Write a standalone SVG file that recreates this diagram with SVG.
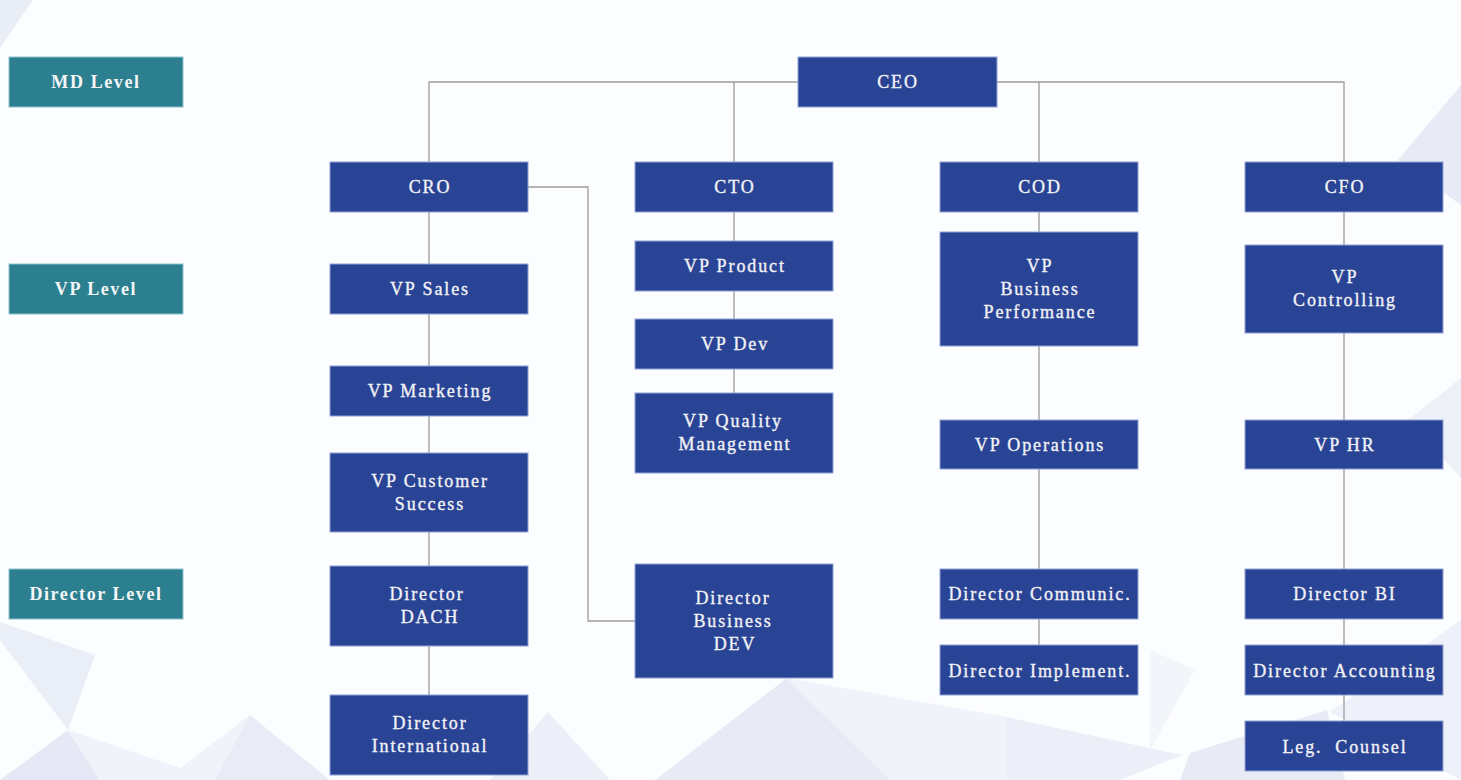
<svg xmlns="http://www.w3.org/2000/svg" width="1461" height="780" viewBox="0 0 1461 780">
<style>
.node{fill:#2a4495;stroke:#8fa2d6;stroke-width:1}
.lvl{fill:#2b7f8e;stroke:#8cc3cc;stroke-width:1}
.t{font-family:"Liberation Serif","DejaVu Serif",serif;font-size:18px;fill:#f2f2f6;stroke:#f2f2f6;stroke-width:0.35px;text-anchor:middle;letter-spacing:1.9px}
.lt{font-family:"Liberation Serif","DejaVu Serif",serif;font-size:18px;font-weight:bold;fill:#f4f6f7;text-anchor:middle;letter-spacing:1.6px}
.c{fill:none;stroke:#9c9c9c;stroke-width:1.3}
</style>
<rect x="0" y="0" width="1461" height="780" fill="#fcfdfe"/>
<g id="background">
<polygon points="0,0 33,0 0,48" fill="#e9eef6"/>
<polygon points="1461,85 1398,160 1461,205" fill="#e8eaf6"/>
<polygon points="1461,378 1408,420 1461,478" fill="#eef0f8"/>
<polygon points="1461,620 1330,712 1461,780" fill="#eef1f9"/>
<polygon points="1190,753 1327,710 1345,780 1180,780" fill="#e8ebf6"/>
<polygon points="1150,650 1195,670 1150,750" fill="#f3f5fb"/>
<polygon points="0,622 95,655 68,730 0,640" fill="#eaeef6"/>
<polygon points="68,730 0,780 100,780" fill="#e6e9f5"/>
<polygon points="68,730 180,768 250,715 300,780 100,780" fill="#f1f3fa"/>
<polygon points="250,715 330,780 215,780" fill="#e9ecf6"/>
<polygon points="548,712 610,780 490,780" fill="#eceff8"/>
<polygon points="655,780 787,678 890,780" fill="#e8ebf6"/>
<polygon points="787,678 1006,717 1006,780 890,780" fill="#f1f3fa"/>
<polygon points="1006,717 1182,755 1120,780 1006,780" fill="#eceff8"/>
</g>
<g id="connectors">
<path class="c" d="M429,162 V82 H1344 V162 M734,82 V162 M1039,82 V162"/>
<path class="c" d="M429,212 V264 M429,314 V366 M429,416 V453 M429,532 V566 M429,646 V695"/>
<path class="c" d="M528,187 H588 V621 H635"/>
<path class="c" d="M734,212 V241 M734,291 V319 M734,369 V393"/>
<path class="c" d="M1039,212 V232 M1039,346 V420 M1039,469 V569 M1039,619 V645"/>
<path class="c" d="M1344,212 V245 M1344,333 V420 M1344,469 V569 M1344,619 V645 M1344,695 V721"/>
</g>
<g id="lvl-md"><rect class="lvl" x="9" y="57" width="174" height="50"/><text class="lt" x="96" y="88">MD Level</text></g>
<g id="lvl-vp"><rect class="lvl" x="9" y="264" width="174" height="50"/><text class="lt" x="96" y="295">VP Level</text></g>
<g id="lvl-dir"><rect class="lvl" x="9" y="569" width="174" height="50"/><text class="lt" x="96" y="600">Director Level</text></g>
<g id="ceo"><rect class="node" x="798" y="57" width="199" height="50"/><text class="t" x="898" y="88">CEO</text></g>
<g id="cro"><rect class="node" x="330" y="162" width="198" height="50"/><text class="t" x="430" y="193">CRO</text></g>
<g id="cto"><rect class="node" x="635" y="162" width="198" height="50"/><text class="t" x="735" y="193">CTO</text></g>
<g id="cod"><rect class="node" x="940" y="162" width="198" height="50"/><text class="t" x="1040" y="193">COD</text></g>
<g id="cfo"><rect class="node" x="1245" y="162" width="198" height="50"/><text class="t" x="1345" y="193">CFO</text></g>
<g id="vp-sales"><rect class="node" x="330" y="264" width="198" height="50"/><text class="t" x="430" y="295">VP Sales</text></g>
<g id="vp-marketing"><rect class="node" x="330" y="366" width="198" height="50"/><text class="t" x="430" y="397">VP Marketing</text></g>
<g id="vp-customer-success"><rect class="node" x="330" y="453" width="198" height="79"/><text class="t" x="430" y="487">VP Customer</text><text class="t" x="430" y="510">Success</text></g>
<g id="dir-dach"><rect class="node" x="330" y="566" width="198" height="80"/><text class="t" x="427" y="600">Director</text><text class="t" x="430" y="623">DACH</text></g>
<g id="dir-international"><rect class="node" x="330" y="695" width="198" height="80"/><text class="t" x="430" y="729">Director</text><text class="t" x="430" y="752">International</text></g>
<g id="vp-product"><rect class="node" x="635" y="241" width="198" height="50"/><text class="t" x="735" y="272">VP Product</text></g>
<g id="vp-dev"><rect class="node" x="635" y="319" width="198" height="50"/><text class="t" x="735" y="350">VP Dev</text></g>
<g id="vp-quality"><rect class="node" x="635" y="393" width="198" height="80"/><text class="t" x="733" y="427">VP Quality</text><text class="t" x="735" y="450">Management</text></g>
<g id="dir-bizdev"><rect class="node" x="635" y="564" width="198" height="114"/><text class="t" x="733" y="604">Director</text><text class="t" x="733" y="627">Business</text><text class="t" x="735" y="650">DEV</text></g>
<g id="vp-bizperf"><rect class="node" x="940" y="232" width="198" height="114"/><text class="t" x="1040" y="272">VP</text><text class="t" x="1040" y="295">Business</text><text class="t" x="1040" y="318">Performance</text></g>
<g id="vp-operations"><rect class="node" x="940" y="420" width="198" height="49"/><text class="t" x="1040" y="451">VP Operations</text></g>
<g id="dir-communic"><rect class="node" x="940" y="569" width="198" height="50"/><text class="t" x="1040" y="600">Director Communic.</text></g>
<g id="dir-implement"><rect class="node" x="940" y="645" width="198" height="50"/><text class="t" x="1040" y="677">Director Implement.</text></g>
<g id="vp-controlling"><rect class="node" x="1245" y="245" width="198" height="88"/><text class="t" x="1345" y="283">VP</text><text class="t" x="1345" y="306">Controlling</text></g>
<g id="vp-hr"><rect class="node" x="1245" y="420" width="198" height="49"/><text class="t" x="1345" y="451">VP HR</text></g>
<g id="dir-bi"><rect class="node" x="1245" y="569" width="198" height="50"/><text class="t" x="1345" y="600">Director BI</text></g>
<g id="dir-accounting"><rect class="node" x="1245" y="645" width="198" height="50"/><text class="t" x="1345" y="677">Director Accounting</text></g>
<g id="leg-counsel"><rect class="node" x="1245" y="721" width="198" height="50"/><text class="t" x="1345" y="753" xml:space="preserve">Leg.  Counsel</text></g>
</svg>
